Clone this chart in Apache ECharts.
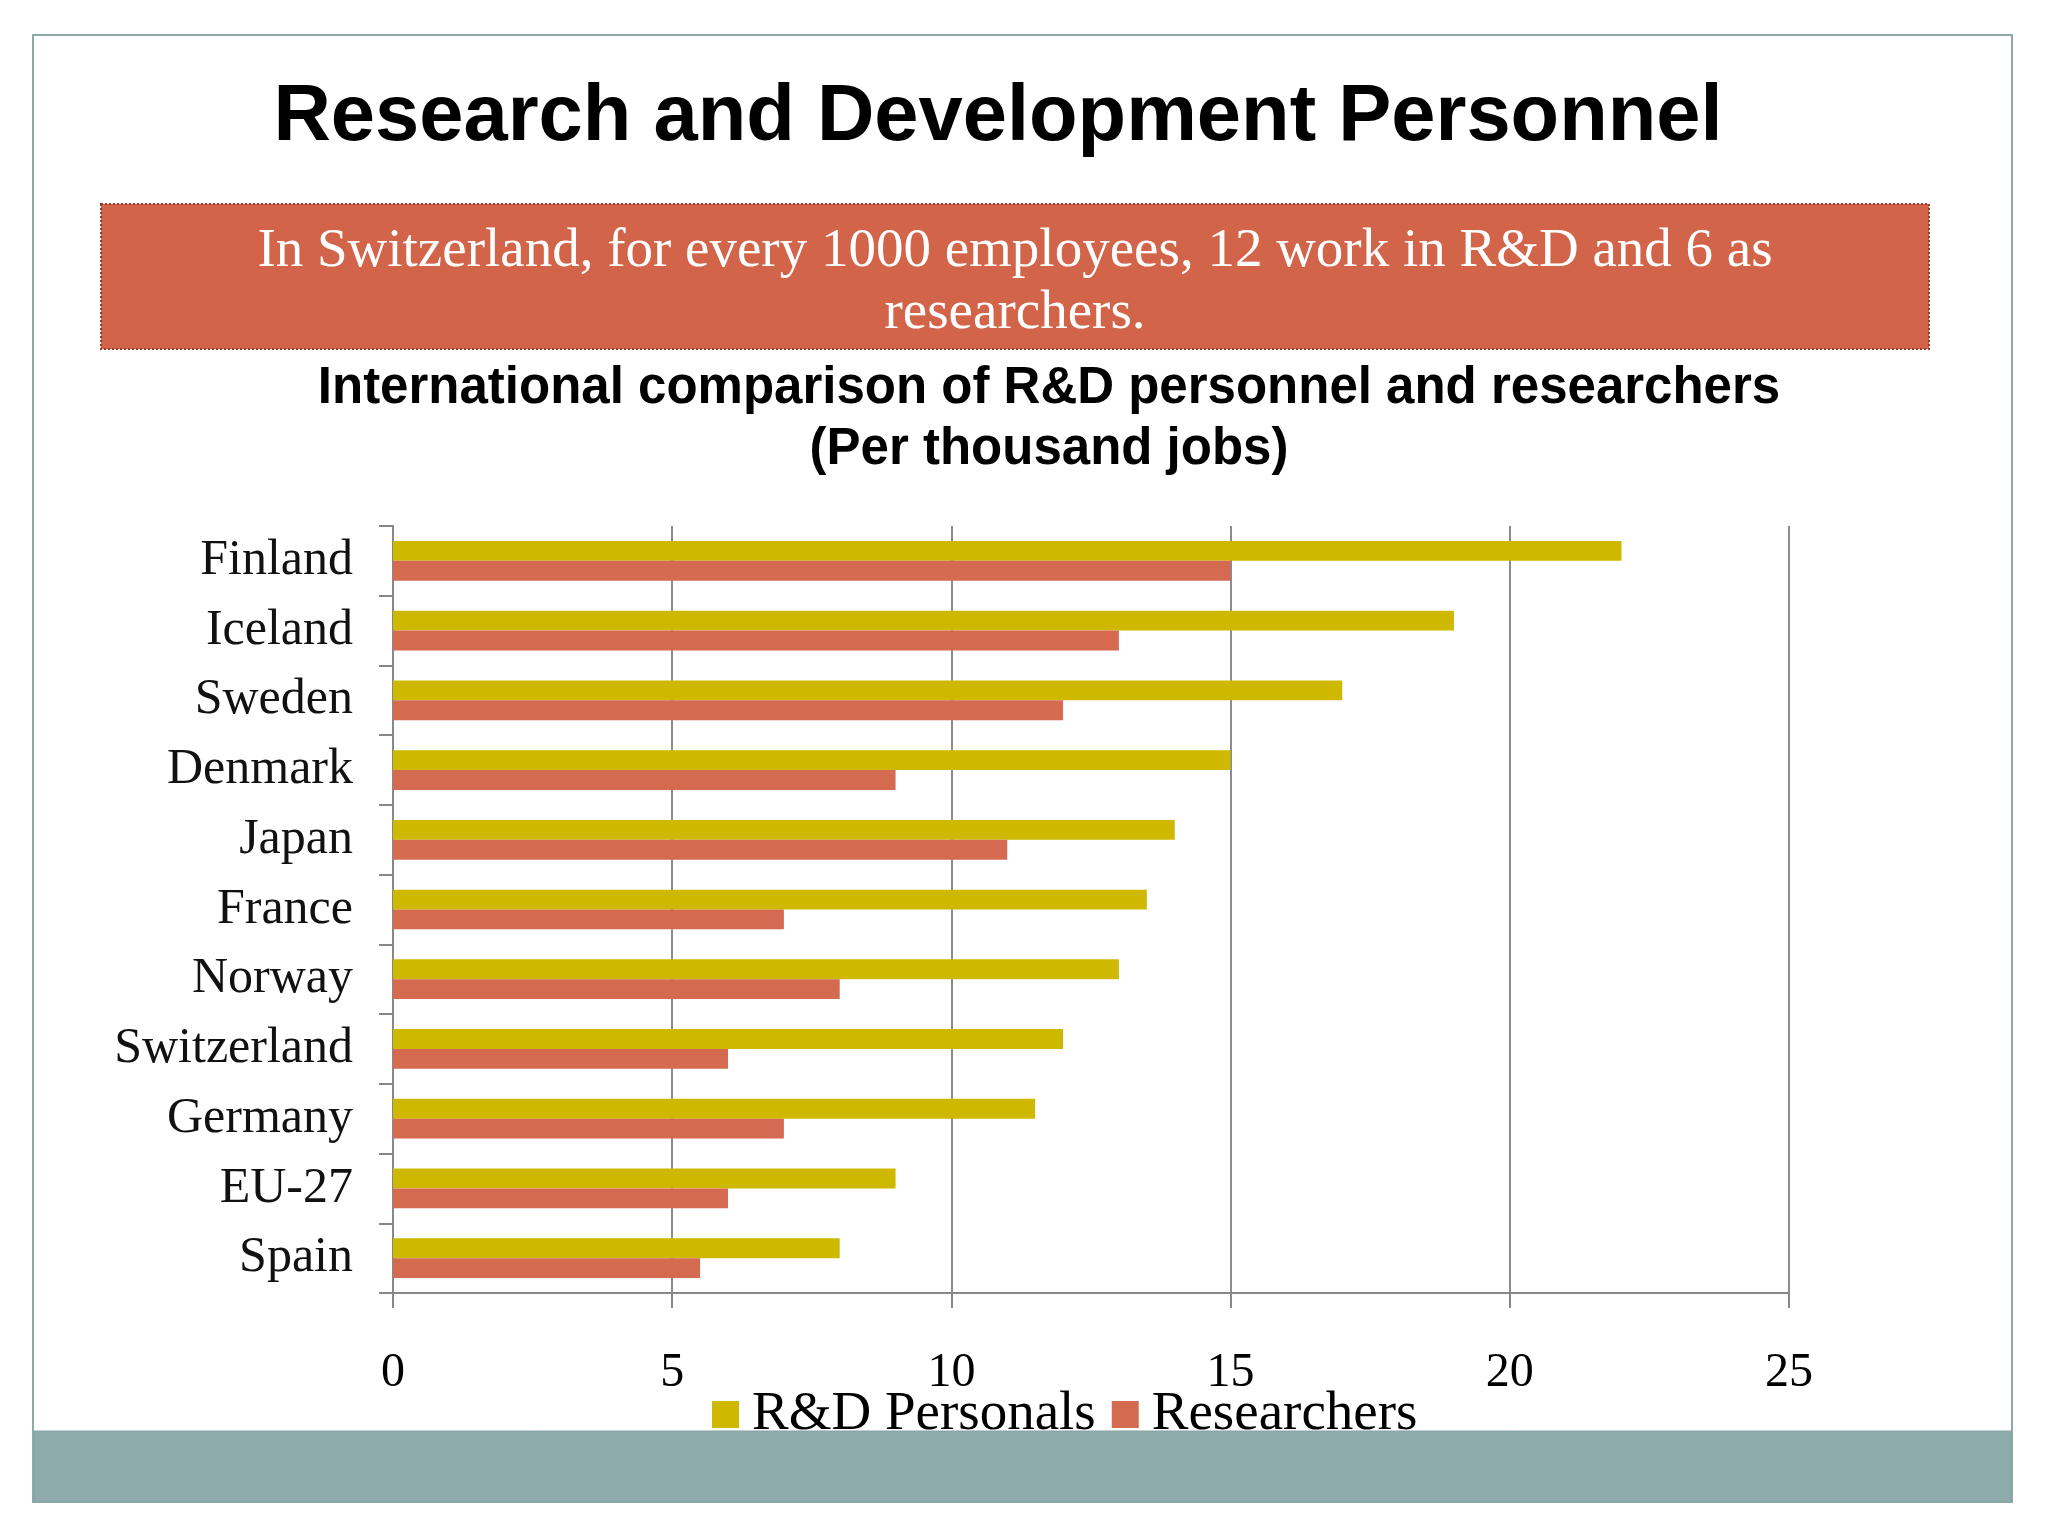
<!DOCTYPE html>
<html>
<head>
<meta charset="utf-8">
<script src="https://cdn.jsdelivr.net/npm/echarts@6/dist/echarts.min.js"></script>
<style>
html,body{margin:0;padding:0;background:#ffffff;}
#chart{width:2048px;height:1536px;}
</style>
</head>
<body>
<div id="chart"></div>
<script>
const categories = ['Finland','Iceland','Sweden','Denmark','Japan','France','Norway','Switzerland','Germany','EU-27','Spain'];
const rdPersonals = [22,19,17,15,14,13.5,13,12,11.5,9,8];
const researchers = [15,13,12,9,11,7,8,6,7,6,5.5];
const seriesNames = ['R&D Personals','Researchers'];
const xTicks = [0,5,10,15,20,25];

const pageTitle = 'Research and Development Personnel';
const bannerLines = ['In Switzerland, for every 1000 employees, 12 work in R&D and 6 as','researchers.'];
const chartTitleLines = ['International comparison of R&D personnel and researchers','(Per thousand jobs)'];

const chart = echarts.init(document.getElementById('chart'));

const serif = '"Liberation Serif", "Times New Roman", serif';
const sans = '"Liberation Sans", Arial, sans-serif';

function txt(text, x, y, size, weight, family, color){
  return {
    type:'text', z:10,
    style:{text:text, x:x, y:y, fill:color, font: weight+' '+size+'px '+family,
      align:'center', verticalAlign:'middle', textAlign:'center', textVerticalAlign:'middle'}
  };
}

const option = {
  backgroundColor:'#ffffff',
  animation:false,
  graphic:[
    {type:'rect', z:0, shape:{x:33,y:35,width:1979,height:1467},
     style:{fill:'#ffffff', stroke:'#8fa9a6', lineWidth:2}},
    {type:'rect', z:1, shape:{x:34,y:1431,width:1977,height:71},
     style:{fill:'#8dabab', stroke:'#86a3a3', lineWidth:1}},
    {type:'rect', z:1, shape:{x:101,y:204,width:1828,height:145},
     style:{fill:'#d2644a', stroke:'#9c3a26', lineWidth:2, lineDash:[2,2]}},
    txt(pageTitle, 998, 118, 79.5, 'bold', sans, '#000000'),
    txt(bannerLines[0], 1015, 252, 55, 'normal', serif, '#ffffff'),
    txt(bannerLines[1], 1015, 314, 55, 'normal', serif, '#ffffff'),
    txt(chartTitleLines[0], 1049, 389, 51, 'bold', sans, '#000000'),
    txt(chartTitleLines[1], 1049, 450, 51, 'bold', sans, '#000000')
  ],
  legend:{
    data:seriesNames,
    left:712, top:1387, padding:0,
    itemWidth:27, itemHeight:27, itemGap:16,
    icon:'rect',
    textStyle:{fontFamily:serif, fontSize:55, color:'#000000', padding:[0,0,0,8]},
    z:20
  },
  grid:{left:393, right:259, top:526, bottom:243, containLabel:false},
  xAxis:{
    type:'value', min:0, max:25, interval:5,
    axisLine:{show:true, lineStyle:{color:'#888888', width:2}},
    axisTick:{show:true, length:15, lineStyle:{color:'#888888', width:2}},
    splitLine:{show:true, lineStyle:{color:'#8c8c8c', width:2}},
    axisLabel:{margin:56, fontFamily:serif, fontSize:48, color:'#000000',
      formatter:function(v){ return xTicks.indexOf(v) >= 0 ? String(v) : ''; }}
  },
  yAxis:{
    type:'category', data:categories, inverse:true,
    axisLine:{show:true, lineStyle:{color:'#888888', width:2}},
    axisTick:{show:true, length:14, lineStyle:{color:'#888888', width:2}},
    splitLine:{show:false},
    axisLabel:{margin:40, fontFamily:serif, fontSize:50, color:'#111111'}
  },
  series:[
    {name:seriesNames[0], type:'bar', data:rdPersonals, barGap:'0%', barCategoryGap:'43%',
     itemStyle:{color:'#cfb900'}},
    {name:seriesNames[1], type:'bar', data:researchers, barGap:'0%', barCategoryGap:'43%',
     itemStyle:{color:'#d46a50'}}
  ]
};
chart.setOption(option);
</script>
</body>
</html>
